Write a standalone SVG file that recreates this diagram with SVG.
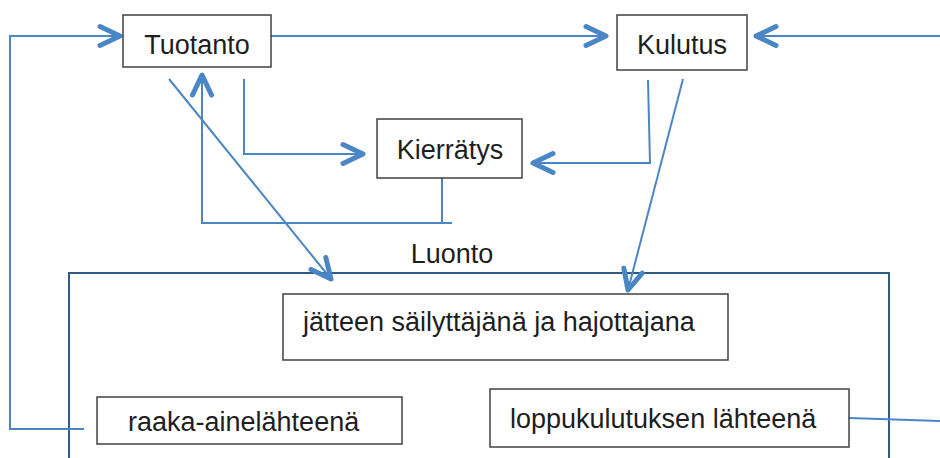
<svg xmlns="http://www.w3.org/2000/svg" width="940" height="458" viewBox="0 0 940 458">
<defs>
<style>
.box{fill:#fff;stroke:#404040;stroke-width:1.5}
.lbl{font-family:"Liberation Sans",Arial,sans-serif;font-size:27px;fill:#1e1e1e}
.c{fill:none;stroke:#4a86c5;stroke-width:2}
.luonto{fill:none;stroke:#2f5b86;stroke-width:2}
</style>
<marker id="ah" viewBox="-25 -15 30 30" markerWidth="30" markerHeight="30" refX="0" refY="0" orient="auto" markerUnits="userSpaceOnUse">
<path d="M-20,-9.5 L0,0 L-20,9.5" fill="none" stroke="#4a86c5" stroke-width="5" stroke-linecap="round" stroke-linejoin="round"/>
</marker>
</defs>
<rect width="940" height="458" fill="#fff"/>
<g id="luonto">
<path class="luonto" d="M69,458 V273 H889 V458"/>
<text class="lbl" x="452" y="263" text-anchor="middle">Luonto</text>
</g>
<g id="connectors">
<path class="c" d="M84,429 H10 V36 H120" marker-end="url(#ah)"/>
<path class="c" d="M270,36 H606" marker-end="url(#ah)"/>
<path class="c" d="M940,36 H756" marker-end="url(#ah)"/>
<path class="c" d="M244,79 V154 H363" marker-end="url(#ah)"/>
<path class="c" d="M442,178 V223"/>
<path class="c" d="M452,223 H202 V75" marker-end="url(#ah)"/>
<path class="c" d="M648,80 L650,163 H533" marker-end="url(#ah)"/>
<path class="c" d="M169,79 L331,279" marker-end="url(#ah)"/>
<path class="c" d="M683,79 L628,290" marker-end="url(#ah)"/>
<path class="c" d="M849,418 L940,421"/>
</g>
<g id="tuotanto">
<rect class="box" x="123" y="15" width="148" height="52"/>
<text class="lbl" x="197" y="54" text-anchor="middle">Tuotanto</text>
</g>
<g id="kulutus">
<rect class="box" x="617" y="15" width="130" height="55"/>
<text class="lbl" x="682" y="54" text-anchor="middle">Kulutus</text>
</g>
<g id="kierratys">
<rect class="box" x="377" y="119" width="145" height="59"/>
<text class="lbl" x="450" y="159" text-anchor="middle">Kierrätys</text>
</g>
<g id="jatteen">
<rect class="box" x="283" y="294" width="445" height="66"/>
<text class="lbl" x="303" y="331">jätteen säilyttäjänä ja hajottajana</text>
</g>
<g id="raaka">
<rect class="box" x="97" y="397" width="305" height="47"/>
<text class="lbl" x="128" y="431">raaka-ainelähteenä</text>
</g>
<g id="loppu">
<rect class="box" x="490" y="389" width="359" height="58"/>
<text class="lbl" x="510" y="428">loppukulutuksen lähteenä</text>
</g>
</svg>
